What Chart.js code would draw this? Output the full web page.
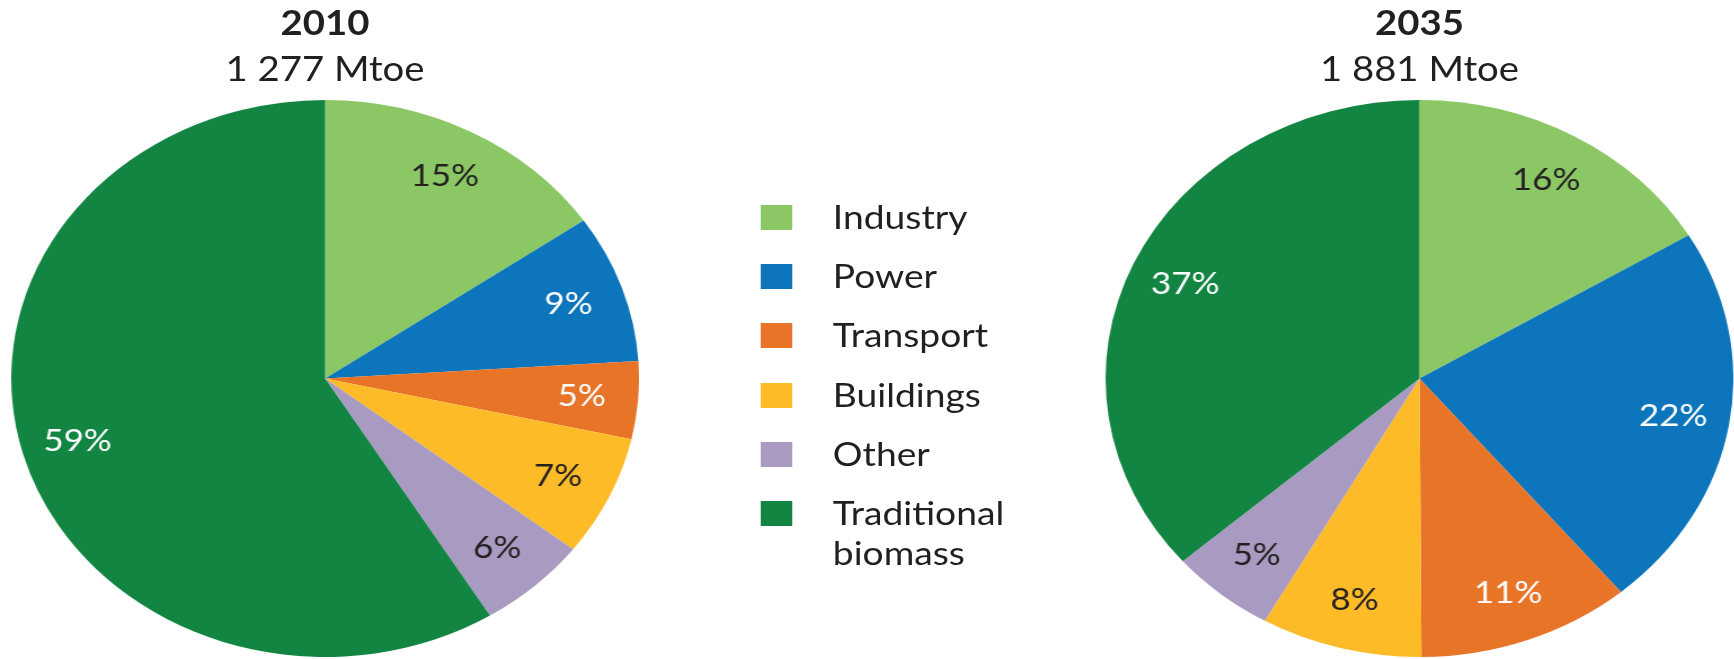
<!DOCTYPE html>
<html>
<head>
<meta charset="utf-8">
<script src="https://cdn.jsdelivr.net/npm/chart.js@4.4.0/dist/chart.umd.min.js"></script>
<style>
html,body{margin:0;padding:0;background:#fff;width:1734px;height:659px;overflow:hidden;}
#stage{position:absolute;left:0;top:0;width:1539px;height:659px;transform:scaleX(1.127);transform-origin:0 0;font-family:Lato,"Open Sans",sans-serif;color:#231F20;}
.pie{position:absolute;top:100px;}
.title{position:absolute;width:400px;text-align:center;font-size:34px;line-height:34px;white-space:nowrap;}
.title.year{font-weight:bold;top:5px;}
.title.total{top:51px;}
.lgbox{position:absolute;width:28px;height:25px;}
.lgtext{position:absolute;width:220px;font-size:33px;line-height:40px;}
</style>
</head>
<body>
<div id="stage">
  <canvas id="pie2010" class="pie" width="557" height="557" style="left:10px"></canvas>
  <canvas id="pie2035" class="pie" width="557" height="557" style="left:981px"></canvas>
  <div id="legend"></div>
</div>
<script>
const categories = ["Industry", "Power", "Transport", "Buildings", "Other", "Traditional biomass"];
const colors = ["#8BC765", "#0C75BB", "#E87427", "#FDBB28", "#A99AC2", "#138543"];
const labelColors = ["#231F20", "#FFFFFF", "#FFFFFF", "#231F20", "#231F20", "#FFFFFF"];

const years = ["2010", "2035"];
const totals = ["1 277 Mtoe", "1 881 Mtoe"];

const shares2010 = [15.4, 8.6, 4.5, 7.0, 5.7, 58.8];
const labels2010 = ["15%", "9%", "5%", "7%", "6%", "59%"];

const shares2035 = [16.4, 22.5, 11.0, 8.3, 5.4, 36.4];
const labels2035 = ["16%", "22%", "11%", "8%", "5%", "37%"];

const stage = document.getElementById('stage');

// titles
const titleCenters = [288.4, 1259.5];
years.forEach((y, i) => {
  const a = document.createElement('div');
  a.className = 'title year';
  a.style.left = (titleCenters[i] - 200) + 'px';
  a.textContent = y;
  stage.appendChild(a);
  const b = document.createElement('div');
  b.className = 'title total';
  b.style.left = (titleCenters[i] - 200) + 'px';
  b.textContent = totals[i];
  stage.appendChild(b);
});

// legend
const legend = document.getElementById('legend');
categories.forEach((c, i) => {
  const top = 205 + i * 59.2;
  const box = document.createElement('div');
  box.className = 'lgbox';
  box.style.left = '674.5px';
  box.style.top = top + 'px';
  box.style.background = colors[i];
  legend.appendChild(box);
  const t = document.createElement('div');
  t.className = 'lgtext';
  t.style.left = '739px';
  t.style.top = (top - 9) + 'px';
  t.textContent = c;
  legend.appendChild(t);
});

const pctLabelPlugin = {
  id: 'pctLabels',
  afterDatasetsDraw(chart) {
    const ctx = chart.ctx;
    const ds = chart.data.datasets[0];
    const meta = chart.getDatasetMeta(0);
    ctx.save();
    ctx.font = '31px Lato, "Open Sans", sans-serif';
    ctx.textAlign = 'center';
    ctx.textBaseline = 'middle';
    meta.data.forEach((arc, i) => {
      const p = arc.getProps(['x', 'y', 'startAngle', 'endAngle', 'outerRadius'], true);
      const mid = (p.startAngle + p.endAngle) / 2;
      const r = p.outerRadius * 0.82;
      ctx.fillStyle = labelColors[i];
      ctx.fillText(ds.pctLabels[i], p.x + Math.cos(mid) * r, p.y + Math.sin(mid) * r);
    });
    ctx.restore();
  }
};

function makePie(id, shares, pctLabels) {
  return new Chart(document.getElementById(id), {
    type: 'pie',
    data: {
      labels: categories,
      datasets: [{
        data: shares,
        pctLabels: pctLabels,
        backgroundColor: colors,
        borderWidth: 0,
        hoverOffset: 0,
        offset: 0
      }]
    },
    options: {
      responsive: false,
      animation: false,
      events: [],
      layout: { padding: 0 },
      plugins: { legend: { display: false }, tooltip: { enabled: false } }
    },
    plugins: [pctLabelPlugin]
  });
}

makePie('pie2010', shares2010, labels2010);
makePie('pie2035', shares2035, labels2035);
</script>
</body>
</html>
